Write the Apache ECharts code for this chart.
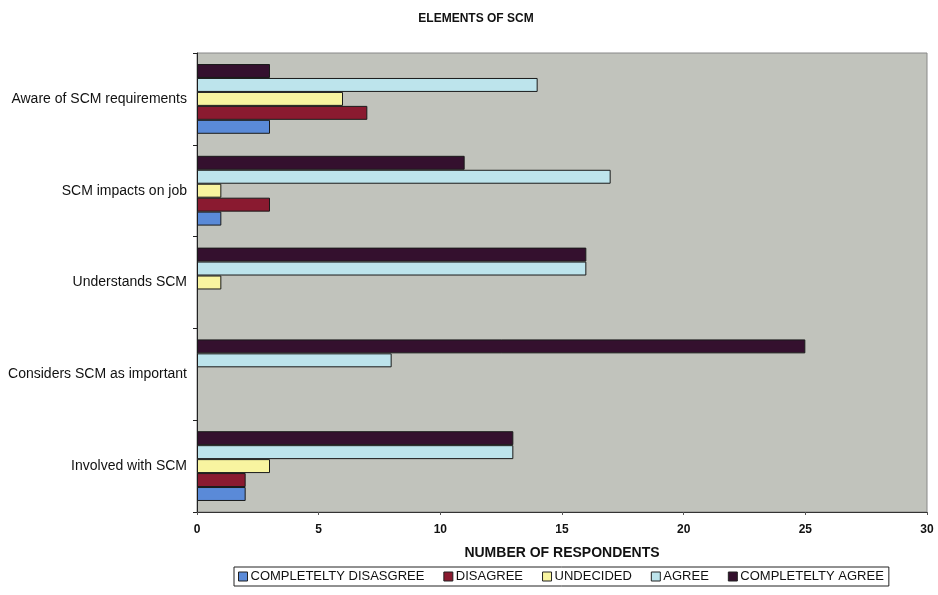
<!DOCTYPE html>
<html><head><meta charset="utf-8">
<script src="https://cdn.jsdelivr.net/npm/echarts@6/dist/echarts.min.js"></script>
<style>html,body{margin:0;padding:0;background:#fff}#c{width:938px;height:595px}</style>
</head><body><div id="c"></div>
<script>
var categories = ["Aware of SCM requirements", "SCM impacts on job", "Understands SCM", "Considers SCM as important", "Involved with SCM"];
var seriesNames = ["COMPLETELTY DISASGREE", "DISAGREE", "UNDECIDED", "AGREE", "COMPLETELTY AGREE"];
var completelyDisagree = [3, 1, 0, 0, 2];
var disagree = [7, 3, 0, 0, 2];
var undecided = [6, 1, 1, 0, 3];
var agree = [14, 17, 16, 8, 13];
var completelyAgree = [3, 11, 16, 25, 13];
var xTicks = [0, 5, 10, 15, 20, 25, 30];

var colors = ["#5a8ad8", "#8a1a30", "#f8f4a0", "#bde4ec", "#34102e"];
var values = [completelyDisagree, disagree, undecided, agree, completelyAgree];
var font = "Liberation Sans, Arial, sans-serif";

var series = [];
for (var i = values.length - 1; i >= 0; i--) {
  series.push({
    name: seriesNames[i], type: "bar",
    data: values[i].map(function (v) { return v === 0 ? "-" : v; }),
    barGap: "0%", barCategoryGap: "24%",
    itemStyle: { color: colors[i], borderColor: "#1a1a1a", borderWidth: 1 }
  });
}

var chart = echarts.init(document.getElementById("c"), null, { renderer: "canvas" });
chart.setOption({
  animation: false,
  backgroundColor: "#ffffff",
  title: { text: "ELEMENTS OF SCM", left: 471, top: 8, textAlign: "center",
    textStyle: { fontFamily: font, fontSize: 12, fontWeight: "bold", color: "#111" } },
  grid: { left: 197, right: 11, top: 53, bottom: 83, containLabel: false,
    show: true, backgroundColor: "#c1c3bc", borderColor: "#888", borderWidth: 1 },
  legend: {
    data: seriesNames, bottom: 9, left: 234, orient: "horizontal",
    backgroundColor: "#fff", borderColor: "#222", borderWidth: 1,
    padding: [3, 5, 3, 4], itemGap: 19, itemWidth: 9, itemHeight: 9, icon: "rect",
    textStyle: { fontFamily: font, fontSize: 13, color: "#111", padding: [0, 0, 0, -2] },
    itemStyle: { borderColor: "#222", borderWidth: 1 }
  },
  xAxis: {
    type: "value", min: xTicks[0], max: xTicks[xTicks.length - 1], interval: 5,
    name: "NUMBER OF RESPONDENTS", nameLocation: "middle", nameGap: 34,
    nameTextStyle: { fontFamily: font, fontSize: 14, fontWeight: "bold", color: "#111" },
    axisLine: { show: true, lineStyle: { color: "#333", width: 1 } },
    axisTick: { show: true, length: 3, lineStyle: { color: "#555" } },
    splitLine: { show: false },
    axisLabel: { fontFamily: font, fontSize: 12, fontWeight: "bold", color: "#111", margin: 12 }
  },
  yAxis: {
    type: "category", data: categories, inverse: true,
    axisLine: { show: true, onZero: false, lineStyle: { color: "#222", width: 1 } },
    axisTick: { show: true, length: 4, lineStyle: { color: "#222" } },
    axisLabel: { fontFamily: font, fontSize: 14, color: "#111", margin: 10 }
  },
  series: series
});
</script></body></html>
